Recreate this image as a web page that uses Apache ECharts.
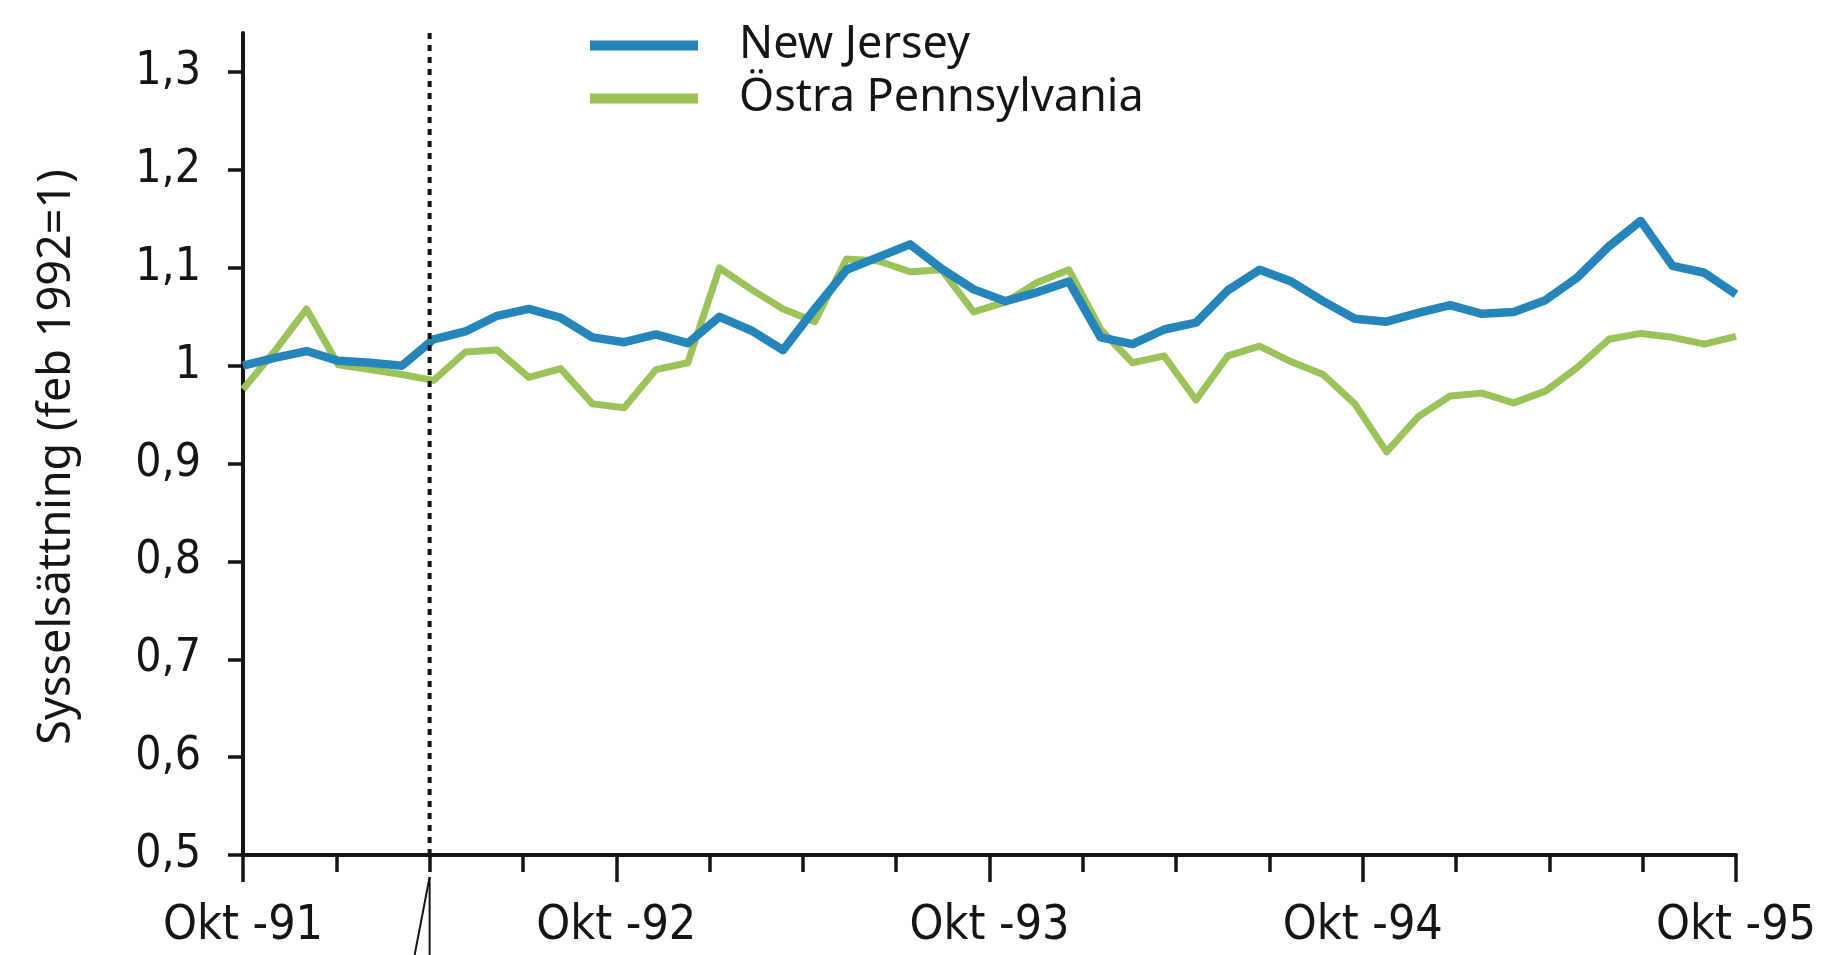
<!DOCTYPE html>
<html>
<head>
<meta charset="utf-8">
<script src="https://cdn.jsdelivr.net/npm/echarts@6/dist/echarts.min.js"></script>
<style>
  html, body { margin: 0; padding: 0; background: #fff; }
  #chart { width: 1834px; height: 955px; }
</style>
</head>
<body>
<div id="chart"></div>
<script>
// Sysselsättning, index feb 1992 = 1 (läst ur figuren, en punkt per period)
var njValues = [1.000, 1.008, 1.015, 1.005, 1.003, 1.000, 1.027, 1.035, 1.051, 1.058, 1.049, 1.029,
                1.024, 1.032, 1.023, 1.050, 1.036, 1.016, 1.058, 1.098, 1.111, 1.124, 1.099, 1.078,
                1.066, 1.075, 1.086, 1.029, 1.022, 1.037, 1.044, 1.077, 1.098, 1.086, 1.066, 1.048,
                1.045, 1.054, 1.062, 1.053, 1.055, 1.067, 1.090, 1.122, 1.148, 1.102, 1.095, 1.073];
var paValues = [0.976, 1.015, 1.058, 1.001, 0.996, 0.991, 0.985, 1.014, 1.016, 0.988, 0.997, 0.961,
                0.957, 0.996, 1.003, 1.100, 1.078, 1.058, 1.045, 1.109, 1.107, 1.096, 1.098, 1.055,
                1.065, 1.085, 1.098, 1.037, 1.003, 1.010, 0.965, 1.010, 1.020, 1.004, 0.991, 0.961,
                0.912, 0.948, 0.969, 0.972, 0.962, 0.974, 0.998, 1.027, 1.033, 1.029, 1.022, 1.030];

var seriesNames = ['New Jersey', 'Östra Pennsylvania'];
var monthLabels = ['Okt -91', 'Okt -92', 'Okt -93', 'Okt -94', 'Okt -95'];  // var 12:e månad
var yTicks = [0.5, 0.6, 0.7, 0.8, 0.9, 1.0, 1.1, 1.2, 1.3];
var reformMonth = 6;   // april 1992, streckad linje

var axisFont = "'DejaVu Sans Condensed', 'Liberation Sans Narrow', sans-serif";
var textFont = "'Noto Sans', 'Open Sans', sans-serif";
var ink = '#151515';

var chart = echarts.init(document.getElementById('chart'));

var option = {
  animation: false,
  backgroundColor: '#fff',
  grid: { left: 243, right: 98, top: 33, bottom: 100 },
  legend: {
    data: seriesNames,
    orient: 'vertical',
    left: 585,
    top: 18,
    itemWidth: 108,
    itemHeight: 10,
    itemGap: 8,
    icon: 'rect',
    textStyle: { fontFamily: textFont, fontSize: 45, color: ink, padding: [0, 0, 0, 36] }
  },
  xAxis: [
    {
      type: 'value',
      min: 0,
      max: 48,
      interval: 12,
      axisLine: { lineStyle: { color: ink, width: 4 } },
      axisTick: { length: 27, lineStyle: { color: ink, width: 3.5 } },
      minorTick: { show: true, splitNumber: 4, length: 17, lineStyle: { color: ink, width: 3.5 } },
      splitLine: { show: false },
      minorSplitLine: { show: false },
      axisLabel: {
        margin: 48,
        fontFamily: axisFont,
        fontSize: 48,
        color: ink,
        formatter: function (v) { return monthLabels[Math.round(v / 12)] || ''; }
      }
    },
    {
      // dataaxel: punkterna ligger jämnt fördelade över perioden
      type: 'value',
      min: 0,
      max: 47.0,
      show: false
    }
  ],
  yAxis: {
    type: 'value',
    min: 0.5,
    max: 1.34,
    name: 'Sysselsättning (feb 1992=1)',
    nameLocation: 'middle',
    nameRotate: 90,
    nameGap: 163,
    nameTextStyle: { fontFamily: textFont, fontSize: 45, color: ink, padding: [0, 26, 0, 0] },
    axisLine: { show: true, lineStyle: { color: ink, width: 4 } },
    axisTick: { show: true, length: 15, customValues: yTicks, lineStyle: { color: ink, width: 3.5 } },
    splitLine: { show: false },
    axisLabel: {
      margin: 42,
      fontFamily: axisFont,
      fontSize: 46,
      color: ink,
      customValues: yTicks,
      formatter: function (v) {
        if (Math.abs(v - 1) < 1e-9) return '1';
        return v.toFixed(1).replace('.', ',');
      }
    }
  },
  series: [
    {
      name: seriesNames[1],
      type: 'line',
      xAxisIndex: 1,
      showSymbol: false,
      data: paValues.map(function (v, i) { return [i, v]; }),
      lineStyle: { color: '#9cc25a', width: 7, join: 'round' },
      itemStyle: { color: '#9cc25a' },
      z: 2
    },
    {
      name: seriesNames[0],
      type: 'line',
      xAxisIndex: 1,
      showSymbol: false,
      data: njValues.map(function (v, i) { return [i, v]; }),
      lineStyle: { color: '#2585ba', width: 8.5, join: 'round' },
      itemStyle: { color: '#2585ba' },
      z: 3
    }
  ]
};
chart.setOption(option);

// streckad linje vid lagändringen + pekaren under axeln
var xr = chart.convertToPixel({ xAxisIndex: 0 }, reformMonth);
var yTop = chart.convertToPixel({ yAxisIndex: 0 }, 1.34);
var yBot = chart.convertToPixel({ yAxisIndex: 0 }, 0.5);
chart.setOption({
  graphic: [
    {
      type: 'line',
      shape: { x1: xr, y1: yTop, x2: xr, y2: yBot },
      style: { stroke: ink, lineWidth: 4, lineDash: [6, 6] },
      z: 10
    },
    {
      type: 'line',
      shape: { x1: xr, y1: yBot + 22, x2: xr, y2: 955 },
      style: { stroke: ink, lineWidth: 2 },
      z: 10
    },
    {
      type: 'line',
      shape: { x1: xr, y1: yBot + 22, x2: xr - 15, y2: 955 },
      style: { stroke: ink, lineWidth: 2 },
      z: 10
    }
  ]
});
</script>
</body>
</html>
